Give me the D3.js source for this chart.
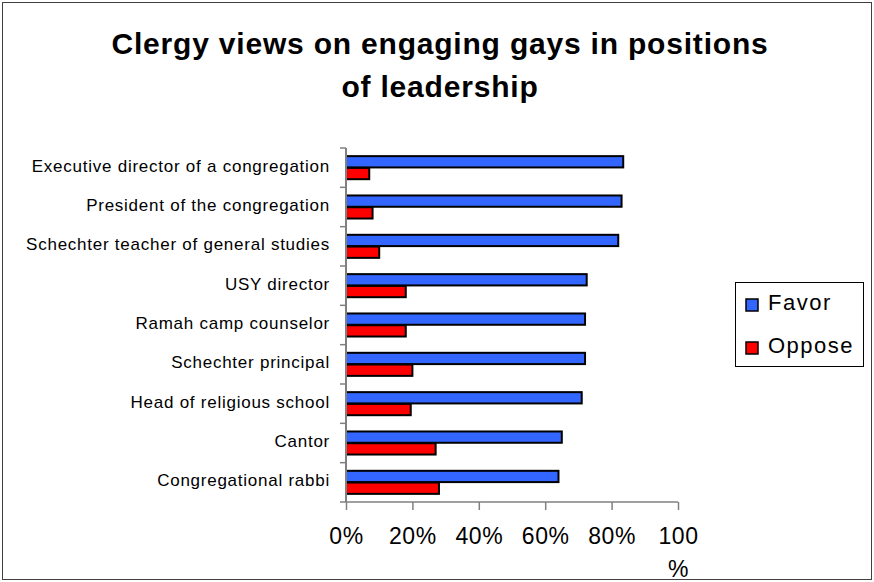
<!DOCTYPE html>
<html>
<head>
<meta charset="utf-8">
<script src="https://cdn.jsdelivr.net/npm/d3@7"></script>
<style>
  html, body { margin: 0; padding: 0; background: #fff; }
  svg { display: block; font-family: "Liberation Sans", Arial, sans-serif; }
</style>
</head>
<body>
<svg id="chart" width="874" height="582"></svg>
<script>
// Survey positions, top to bottom
const categories = [
  "Executive director of a congregation",
  "President of the congregation",
  "Schechter teacher of general studies",
  "USY director",
  "Ramah camp counselor",
  "Schechter principal",
  "Head of religious school",
  "Cantor",
  "Congregational rabbi"
];
const favor  = [83.5, 83, 82, 72.5, 72, 72, 71, 65, 64];
const oppose = [7, 8, 10, 18, 18, 20, 19.5, 27, 28];
const seriesNames = ["Favor", "Oppose"];
const seriesColors = ["#3366ff", "#ff0000"];
const xTicks = [0, 20, 40, 60, 80, 100];

const svg = d3.select("#chart");
const W = 874, H = 582;
const FONT = "'Liberation Sans', Arial, sans-serif";

// outer frame
svg.append("rect")
  .attr("x", 2.5).attr("y", 2.5)
  .attr("width", W - 5).attr("height", H - 5)
  .attr("fill", "#fff").attr("stroke", "#404040").attr("stroke-width", 1);

// title
const title = svg.append("text")
  .attr("text-anchor", "middle")
  .attr("font-weight", "bold")
  .attr("font-size", 30)
  .attr("letter-spacing", "0.8px")
  .attr("fill", "#000");
title.append("tspan").attr("x", 440).attr("y", 54).text("Clergy views on engaging gays in positions");
title.append("tspan").attr("x", 440).attr("y", 97).text("of leadership");

const plot = { left: 346, right: 678, top: 148, bottom: 502 };

const x = d3.scaleLinear().domain([0, 100]).range([plot.left, plot.right]);
const y = d3.scaleBand().domain(categories).range([plot.top, plot.bottom])
  .paddingInner(0.39).paddingOuter(0.195);
const ySub = d3.scaleBand().domain(seriesNames).range([0, y.bandwidth()]).padding(0.04);

const rows = categories.map((c, i) => ({ cat: c, values: [favor[i], oppose[i]] }));

// bars
const g = svg.append("g");
const groups = g.selectAll("g.row").data(rows).join("g")
  .attr("class", "row")
  .attr("transform", d => `translate(0,${y(d.cat)})`);

groups.selectAll("rect").data(d => d.values.map((v, k) => ({ v, k }))).join("rect")
  .attr("x", x(0))
  .attr("y", d => ySub(seriesNames[d.k]))
  .attr("width", d => x(d.v) - x(0))
  .attr("height", ySub.bandwidth())
  .attr("fill", d => seriesColors[d.k])
  .attr("stroke", "#000")
  .attr("stroke-width", 2);

// y axis
const yAxis = svg.append("g")
  .attr("transform", `translate(${plot.left},0)`)
  .call(d3.axisLeft(y).tickSize(0).tickPadding(16));
yAxis.select(".domain").attr("stroke", "#808080").attr("stroke-width", 2)
  .attr("d", `M0,${plot.top}V${plot.bottom}`);
yAxis.selectAll("text").attr("font-size", 17).attr("fill", "#000")
  .attr("font-family", FONT)
  .attr("dy", "0.24em")
  .attr("letter-spacing", "0.75px");
// category separators on the y axis
const sepPositions = categories.map(c => y(c) - y.step() * y.paddingInner() / 2).concat([plot.bottom]);
svg.append("g").selectAll("line").data(sepPositions).join("line")
  .attr("x1", plot.left - 6).attr("x2", plot.left)
  .attr("y1", d => d).attr("y2", d => d)
  .attr("stroke", "#808080").attr("stroke-width", 1.5);

// x axis
const xAxis = svg.append("g")
  .attr("transform", `translate(0,${plot.bottom})`)
  .call(d3.axisBottom(x).tickValues(xTicks).tickSize(8).tickPadding(18)
    .tickFormat(d => d + "%"));
xAxis.select(".domain").attr("stroke", "#808080").attr("stroke-width", 1.5)
  .attr("d", `M${plot.left},0H${plot.right}`);
xAxis.selectAll(".tick line").attr("stroke", "#808080").attr("stroke-width", 1.5);
xAxis.selectAll(".tick text")
  .attr("font-size", 23).attr("fill", "#000")
  .attr("font-family", FONT)
  .attr("letter-spacing", "0.6px")
  .each(function(d) {
    // the widest label wraps onto a second line
    if (d === 100) {
      const t = d3.select(this);
      t.text(null).attr("dy", null);
      t.append("tspan").attr("x", 0).attr("dy", "0.71em").text("100");
      t.append("tspan").attr("x", 0).attr("dy", "1.4em").text("%");
    }
  });

// legend
const legend = svg.append("g");
legend.append("rect")
  .attr("x", 735.5).attr("y", 282.5).attr("width", 128).attr("height", 84)
  .attr("fill", "#fff").attr("stroke", "#000").attr("stroke-width", 1);
const items = legend.selectAll("g.item").data(seriesNames).join("g")
  .attr("class", "item")
  .attr("transform", (d, i) => `translate(746,${299 + i * 43})`);
items.append("rect")
  .attr("width", 12).attr("height", 12)
  .attr("fill", (d, i) => seriesColors[i])
  .attr("stroke", "#000").attr("stroke-width", 1.5);
items.append("text")
  .attr("x", 22).attr("y", 11)
  .attr("font-size", 22).attr("letter-spacing", "1.5px").attr("fill", "#000")
  .text(d => d);
</script>
</body>
</html>
